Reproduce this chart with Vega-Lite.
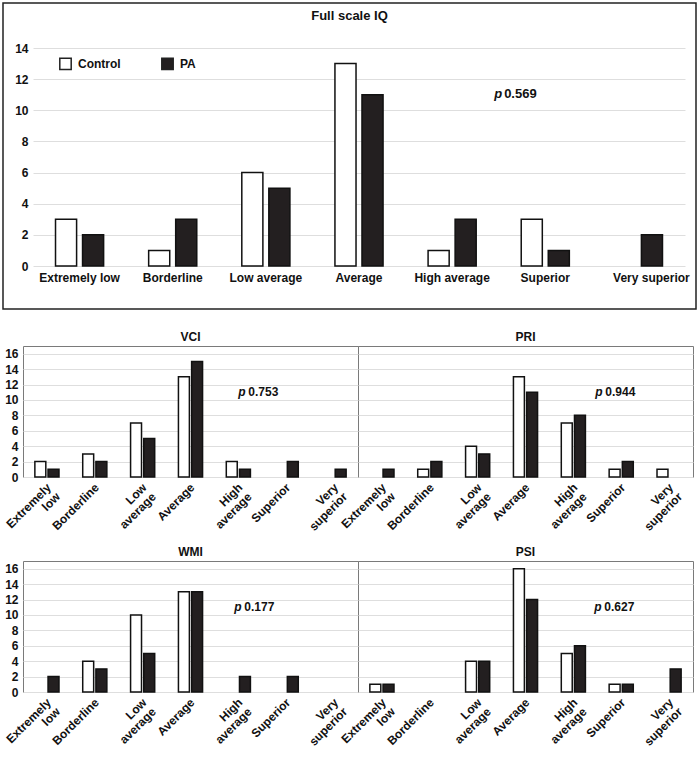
{
  "$schema": "https://vega.github.io/schema/vega-lite/v6.json",
  "padding": {"left": 2, "top": 2, "right": 0, "bottom": 0},
  "background": "white",
  "spacing": 20,
  "resolve": {"scale": {"xOffset": "independent", "x": "independent", "y": "independent"}},
  "datasets": {
    "fsiq": [
      {"cat": "Extremely low", "group": "Control", "value": 3}, {"cat": "Extremely low", "group": "PA", "value": 2},
      {"cat": "Borderline", "group": "Control", "value": 1}, {"cat": "Borderline", "group": "PA", "value": 3},
      {"cat": "Low average", "group": "Control", "value": 6}, {"cat": "Low average", "group": "PA", "value": 5},
      {"cat": "Average", "group": "Control", "value": 13}, {"cat": "Average", "group": "PA", "value": 11},
      {"cat": "High average", "group": "Control", "value": 1}, {"cat": "High average", "group": "PA", "value": 3},
      {"cat": "Superior", "group": "Control", "value": 3}, {"cat": "Superior", "group": "PA", "value": 1},
      {"cat": "Very superior", "group": "Control", "value": 0}, {"cat": "Very superior", "group": "PA", "value": 2}
    ],
    "vci": [
      {"cat": "Extremely low", "group": "Control", "value": 2}, {"cat": "Extremely low", "group": "PA", "value": 1},
      {"cat": "Borderline", "group": "Control", "value": 3}, {"cat": "Borderline", "group": "PA", "value": 2},
      {"cat": "Low average", "group": "Control", "value": 7}, {"cat": "Low average", "group": "PA", "value": 5},
      {"cat": "Average", "group": "Control", "value": 13}, {"cat": "Average", "group": "PA", "value": 15},
      {"cat": "High average", "group": "Control", "value": 2}, {"cat": "High average", "group": "PA", "value": 1},
      {"cat": "Superior", "group": "Control", "value": 0}, {"cat": "Superior", "group": "PA", "value": 2},
      {"cat": "Very superior", "group": "Control", "value": 0}, {"cat": "Very superior", "group": "PA", "value": 1}
    ],
    "pri": [
      {"cat": "Extremely low", "group": "Control", "value": 0}, {"cat": "Extremely low", "group": "PA", "value": 1},
      {"cat": "Borderline", "group": "Control", "value": 1}, {"cat": "Borderline", "group": "PA", "value": 2},
      {"cat": "Low average", "group": "Control", "value": 4}, {"cat": "Low average", "group": "PA", "value": 3},
      {"cat": "Average", "group": "Control", "value": 13}, {"cat": "Average", "group": "PA", "value": 11},
      {"cat": "High average", "group": "Control", "value": 7}, {"cat": "High average", "group": "PA", "value": 8},
      {"cat": "Superior", "group": "Control", "value": 1}, {"cat": "Superior", "group": "PA", "value": 2},
      {"cat": "Very superior", "group": "Control", "value": 1}, {"cat": "Very superior", "group": "PA", "value": 0}
    ],
    "wmi": [
      {"cat": "Extremely low", "group": "Control", "value": 0}, {"cat": "Extremely low", "group": "PA", "value": 2},
      {"cat": "Borderline", "group": "Control", "value": 4}, {"cat": "Borderline", "group": "PA", "value": 3},
      {"cat": "Low average", "group": "Control", "value": 10}, {"cat": "Low average", "group": "PA", "value": 5},
      {"cat": "Average", "group": "Control", "value": 13}, {"cat": "Average", "group": "PA", "value": 13},
      {"cat": "High average", "group": "Control", "value": 0}, {"cat": "High average", "group": "PA", "value": 2},
      {"cat": "Superior", "group": "Control", "value": 0}, {"cat": "Superior", "group": "PA", "value": 2},
      {"cat": "Very superior", "group": "Control", "value": 0}, {"cat": "Very superior", "group": "PA", "value": 0}
    ],
    "psi": [
      {"cat": "Extremely low", "group": "Control", "value": 1}, {"cat": "Extremely low", "group": "PA", "value": 1},
      {"cat": "Borderline", "group": "Control", "value": 0}, {"cat": "Borderline", "group": "PA", "value": 0},
      {"cat": "Low average", "group": "Control", "value": 4}, {"cat": "Low average", "group": "PA", "value": 4},
      {"cat": "Average", "group": "Control", "value": 16}, {"cat": "Average", "group": "PA", "value": 12},
      {"cat": "High average", "group": "Control", "value": 5}, {"cat": "High average", "group": "PA", "value": 6},
      {"cat": "Superior", "group": "Control", "value": 1}, {"cat": "Superior", "group": "PA", "value": 1},
      {"cat": "Very superior", "group": "Control", "value": 0}, {"cat": "Very superior", "group": "PA", "value": 3}
    ],
    "pvals": [
      {"panel": "FSIQ", "p": "0.569"},
      {"panel": "VCI", "p": "0.753"},
      {"panel": "PRI", "p": "0.944"},
      {"panel": "WMI", "p": "0.177"},
      {"panel": "PSI", "p": "0.627"}
    ]
  },
  "vconcat": [
    {
      "width": 693,
      "height": 306,
      "view": {"stroke": "#222222", "strokeWidth": 1.5},
      "title": {"text": "Full scale IQ", "fontSize": 13, "fontWeight": "bold", "font": "Liberation Sans", "color": "#111111", "anchor": "middle", "baseline": "alphabetic", "offset": -30},
      "layer": [
        {
          "data": {"name": "fsiq"},
          "transform": [{"filter": "datum.value > 0"}],
          "mark": {"type": "bar", "stroke": "#111111", "strokeWidth": 1.5},
          "encoding": {
            "x": {"field": "cat", "type": "nominal", "sort": ["Extremely low", "Borderline", "Low average", "Average", "High average", "Superior", "Very superior"],
              "scale": {"domain": ["Extremely low", "Borderline", "Low average", "Average", "High average", "Superior", "Very superior"], "range": [30, 682], "paddingInner": 0, "paddingOuter": 0},
              "axis": {"title": null, "orient": "bottom", "offset": -43, "labelAngle": 0, "labelAlign": "center", "labelBaseline": "top", "labelPadding": 6, "labelOffset": {"condition": {"test": "datum.label == 'Very superior'", "value": 13}, "value": 0}, "ticks": false, "domain": false, "labelFontSize": 12, "labelFontWeight": "bold", "labelColor": "#111111", "labelFont": "Liberation Sans", "labelLimit": 200, "labelOverlap": false}},
            "xOffset": {"field": "group", "type": "nominal", "scale": {"domain": ["Control", "PA"], "paddingInner": 0.22, "paddingOuter": 0.833}},
            "y": {"field": "value", "type": "quantitative", "scale": {"domain": [0, 14], "range": [263, 45], "nice": false, "zero": true},
              "axis": {"title": null, "offset": -30, "values": [0, 2, 4, 6, 8, 10, 12, 14], "labelPadding": 5, "ticks": false, "domain": false, "grid": true, "gridColor": "#dedede", "gridWidth": 1, "labelFontSize": 12, "labelFontWeight": "bold", "labelColor": "#111111", "labelFont": "Liberation Sans", "labelOverlap": false}},
            "fill": {"field": "group", "type": "nominal", "scale": {"domain": ["Control", "PA"], "range": ["#ffffff", "#231f20"]},
              "legend": {"title": null, "orient": "none", "legendX": 56, "legendY": 54, "direction": "horizontal", "symbolType": "square", "symbolSize": 130, "symbolStrokeColor": "#222222", "symbolStrokeWidth": 1.5, "labelFontSize": 12, "labelFontWeight": "bold", "labelFont": "Liberation Sans", "labelColor": "#111111", "labelOffset": 6, "columnPadding": 37}}
          }
        },
        {
          "data": {"name": "pvals"},
          "transform": [{"filter": "datum.panel == 'FSIQ'"}],
          "mark": {"type": "text", "text": "p", "fontStyle": "italic", "fontWeight": "bold", "fontSize": 13, "font": "Liberation Sans", "align": "left", "baseline": "middle", "dx": 42, "color": "#111111"},
          "encoding": {"x": {"datum": "High average", "type": "nominal"}, "y": {"datum": 11.05, "type": "quantitative"}}
        },
        {
          "data": {"name": "pvals"},
          "transform": [{"filter": "datum.panel == 'FSIQ'"}],
          "mark": {"type": "text", "fontWeight": "bold", "fontSize": 13, "font": "Liberation Sans", "align": "left", "baseline": "middle", "dx": 52, "color": "#111111"},
          "encoding": {"text": {"field": "p"}, "x": {"datum": "High average", "type": "nominal"}, "y": {"datum": 11.05, "type": "quantitative"}}
        }
      ]
    },
    {
      "spacing": 5,
      "vconcat": [
        {
          "spacing": 0,
          "bounds": "flush",
          "hconcat": [
            {"width": 20, "height": 131, "view": {"stroke": null}, "data": {"values": []}, "mark": {"type": "point", "opacity": 0}},
            {
              "width": 335, "height": 131,
              "title": {"text": "VCI", "fontSize": 12, "fontWeight": "bold", "font": "Liberation Sans", "color": "#111111", "anchor": "middle", "baseline": "alphabetic", "offset": -7},
              "layer": [
                {
                  "data": {"name": "vci"},
                  "transform": [{"filter": "datum.value > 0"}],
                  "mark": {"type": "bar", "stroke": "#111111", "strokeWidth": 1.5},
                  "encoding": {
                    "x": {"field": "cat", "type": "nominal", "sort": ["Extremely low", "Borderline", "Low average", "Average", "High average", "Superior", "Very superior"], "scale": {"domain": ["Extremely low", "Borderline", "Low average", "Average", "High average", "Superior", "Very superior"], "paddingInner": 0, "paddingOuter": 0},
                      "axis": {"title": null, "labelAngle": -45, "labelAlign": "right", "labelBaseline": "middle", "labelPadding": 8, "labelOffset": 2, "labelExpr": "split(datum.label, ' ')", "labelLineHeight": 13, "ticks": false, "domain": false, "labelFontSize": 12, "labelFontWeight": "bold", "labelColor": "#111111", "labelFont": "Liberation Sans", "labelOverlap": false}},
                    "xOffset": {"field": "group", "type": "nominal", "scale": {"domain": ["Control", "PA"], "paddingInner": 0.17, "paddingOuter": 0.9}},
                    "y": {"field": "value", "type": "quantitative", "scale": {"domain": [0, 17], "nice": false},
                      "axis": {"title": null, "values": [0, 2, 4, 6, 8, 10, 12, 14, 16], "tickCount": 9, "labelPadding": 5, "ticks": false, "domain": false, "grid": true, "gridColor": "#dedede", "labelFontSize": 12, "labelFontWeight": "bold", "labelColor": "#111111", "labelFont": "Liberation Sans", "labelOverlap": false, "labelBound": false, "labelSeparation": 0}},
                    "fill": {"field": "group", "type": "nominal", "scale": {"domain": ["Control", "PA"], "range": ["#ffffff", "#231f20"]}, "legend": null}
                  }
                },
                {
                  "data": {"name": "pvals"}, "transform": [{"filter": "datum.panel == 'VCI'"}],
                  "mark": {"type": "text", "text": "p", "fontStyle": "italic", "fontWeight": "bold", "fontSize": 12, "font": "Liberation Sans", "align": "left", "baseline": "middle", "dx": 0, "color": "#111111"},
                  "encoding": {"x": {"datum": "High average", "type": "nominal"}, "y": {"datum": 11, "type": "quantitative"}}
                },
                {
                  "data": {"name": "pvals"}, "transform": [{"filter": "datum.panel == 'VCI'"}],
                  "mark": {"type": "text", "fontWeight": "bold", "fontSize": 12, "font": "Liberation Sans", "align": "left", "baseline": "middle", "dx": 10, "color": "#111111"},
                  "encoding": {"text": {"field": "p"}, "x": {"datum": "High average", "type": "nominal"}, "y": {"datum": 11, "type": "quantitative"}}
                }
              ]
            },
            {
              "width": 335, "height": 131,
              "title": {"text": "PRI", "fontSize": 12, "fontWeight": "bold", "font": "Liberation Sans", "color": "#111111", "anchor": "middle", "baseline": "alphabetic", "offset": -7},
              "layer": [
                {
                  "data": {"name": "pri"},
                  "transform": [{"filter": "datum.value > 0"}],
                  "mark": {"type": "bar", "stroke": "#111111", "strokeWidth": 1.5},
                  "encoding": {
                    "x": {"field": "cat", "type": "nominal", "sort": ["Extremely low", "Borderline", "Low average", "Average", "High average", "Superior", "Very superior"], "scale": {"domain": ["Extremely low", "Borderline", "Low average", "Average", "High average", "Superior", "Very superior"], "paddingInner": 0, "paddingOuter": 0},
                      "axis": {"title": null, "labelAngle": -45, "labelAlign": "right", "labelBaseline": "middle", "labelPadding": 8, "labelOffset": 2, "labelExpr": "split(datum.label, ' ')", "labelLineHeight": 13, "ticks": false, "domain": false, "labelFontSize": 12, "labelFontWeight": "bold", "labelColor": "#111111", "labelFont": "Liberation Sans", "labelOverlap": false}},
                    "xOffset": {"field": "group", "type": "nominal", "scale": {"domain": ["Control", "PA"], "paddingInner": 0.17, "paddingOuter": 0.9}},
                    "y": {"field": "value", "type": "quantitative", "scale": {"domain": [0, 17], "nice": false},
                      "axis": {"title": null, "values": [0, 2, 4, 6, 8, 10, 12, 14, 16], "tickCount": 9, "labels": false, "ticks": false, "domain": false, "grid": true, "gridColor": "#dedede"}},
                    "fill": {"field": "group", "type": "nominal", "scale": {"domain": ["Control", "PA"], "range": ["#ffffff", "#231f20"]}, "legend": null}
                  }
                },
                {
                  "data": {"name": "pvals"}, "transform": [{"filter": "datum.panel == 'PRI'"}],
                  "mark": {"type": "text", "text": "p", "fontStyle": "italic", "fontWeight": "bold", "fontSize": 12, "font": "Liberation Sans", "align": "left", "baseline": "middle", "dx": 22, "color": "#111111"},
                  "encoding": {"x": {"datum": "High average", "type": "nominal"}, "y": {"datum": 11, "type": "quantitative"}}
                },
                {
                  "data": {"name": "pvals"}, "transform": [{"filter": "datum.panel == 'PRI'"}],
                  "mark": {"type": "text", "fontWeight": "bold", "fontSize": 12, "font": "Liberation Sans", "align": "left", "baseline": "middle", "dx": 32, "color": "#111111"},
                  "encoding": {"text": {"field": "p"}, "x": {"datum": "High average", "type": "nominal"}, "y": {"datum": 11, "type": "quantitative"}}
                }
              ]
            }
          ]
        },
        {
          "spacing": 0,
          "bounds": "flush",
          "hconcat": [
            {"width": 20, "height": 131, "view": {"stroke": null}, "data": {"values": []}, "mark": {"type": "point", "opacity": 0}},
            {
              "width": 335, "height": 131,
              "title": {"text": "WMI", "fontSize": 12, "fontWeight": "bold", "font": "Liberation Sans", "color": "#111111", "anchor": "middle", "baseline": "alphabetic", "offset": -7},
              "layer": [
                {
                  "data": {"name": "wmi"},
                  "transform": [{"filter": "datum.value > 0"}],
                  "mark": {"type": "bar", "stroke": "#111111", "strokeWidth": 1.5},
                  "encoding": {
                    "x": {"field": "cat", "type": "nominal", "sort": ["Extremely low", "Borderline", "Low average", "Average", "High average", "Superior", "Very superior"], "scale": {"domain": ["Extremely low", "Borderline", "Low average", "Average", "High average", "Superior", "Very superior"], "paddingInner": 0, "paddingOuter": 0},
                      "axis": {"title": null, "labelAngle": -45, "labelAlign": "right", "labelBaseline": "middle", "labelPadding": 8, "labelOffset": 2, "labelExpr": "split(datum.label, ' ')", "labelLineHeight": 13, "ticks": false, "domain": false, "labelFontSize": 12, "labelFontWeight": "bold", "labelColor": "#111111", "labelFont": "Liberation Sans", "labelOverlap": false}},
                    "xOffset": {"field": "group", "type": "nominal", "scale": {"domain": ["Control", "PA"], "paddingInner": 0.17, "paddingOuter": 0.9}},
                    "y": {"field": "value", "type": "quantitative", "scale": {"domain": [0, 17], "nice": false},
                      "axis": {"title": null, "values": [0, 2, 4, 6, 8, 10, 12, 14, 16], "tickCount": 9, "labelPadding": 5, "ticks": false, "domain": false, "grid": true, "gridColor": "#dedede", "labelFontSize": 12, "labelFontWeight": "bold", "labelColor": "#111111", "labelFont": "Liberation Sans", "labelOverlap": false, "labelBound": false, "labelSeparation": 0}},
                    "fill": {"field": "group", "type": "nominal", "scale": {"domain": ["Control", "PA"], "range": ["#ffffff", "#231f20"]}, "legend": null}
                  }
                },
                {
                  "data": {"name": "pvals"}, "transform": [{"filter": "datum.panel == 'WMI'"}],
                  "mark": {"type": "text", "text": "p", "fontStyle": "italic", "fontWeight": "bold", "fontSize": 12, "font": "Liberation Sans", "align": "left", "baseline": "middle", "dx": -4, "color": "#111111"},
                  "encoding": {"x": {"datum": "High average", "type": "nominal"}, "y": {"datum": 11, "type": "quantitative"}}
                },
                {
                  "data": {"name": "pvals"}, "transform": [{"filter": "datum.panel == 'WMI'"}],
                  "mark": {"type": "text", "fontWeight": "bold", "fontSize": 12, "font": "Liberation Sans", "align": "left", "baseline": "middle", "dx": 6, "color": "#111111"},
                  "encoding": {"text": {"field": "p"}, "x": {"datum": "High average", "type": "nominal"}, "y": {"datum": 11, "type": "quantitative"}}
                }
              ]
            },
            {
              "width": 335, "height": 131,
              "title": {"text": "PSI", "fontSize": 12, "fontWeight": "bold", "font": "Liberation Sans", "color": "#111111", "anchor": "middle", "baseline": "alphabetic", "offset": -7},
              "layer": [
                {
                  "data": {"name": "psi"},
                  "transform": [{"filter": "datum.value > 0"}],
                  "mark": {"type": "bar", "stroke": "#111111", "strokeWidth": 1.5},
                  "encoding": {
                    "x": {"field": "cat", "type": "nominal", "sort": ["Extremely low", "Borderline", "Low average", "Average", "High average", "Superior", "Very superior"], "scale": {"domain": ["Extremely low", "Borderline", "Low average", "Average", "High average", "Superior", "Very superior"], "paddingInner": 0, "paddingOuter": 0},
                      "axis": {"title": null, "labelAngle": -45, "labelAlign": "right", "labelBaseline": "middle", "labelPadding": 8, "labelOffset": 2, "labelExpr": "split(datum.label, ' ')", "labelLineHeight": 13, "ticks": false, "domain": false, "labelFontSize": 12, "labelFontWeight": "bold", "labelColor": "#111111", "labelFont": "Liberation Sans", "labelOverlap": false}},
                    "xOffset": {"field": "group", "type": "nominal", "scale": {"domain": ["Control", "PA"], "paddingInner": 0.17, "paddingOuter": 0.9}},
                    "y": {"field": "value", "type": "quantitative", "scale": {"domain": [0, 17], "nice": false},
                      "axis": {"title": null, "values": [0, 2, 4, 6, 8, 10, 12, 14, 16], "tickCount": 9, "labels": false, "ticks": false, "domain": false, "grid": true, "gridColor": "#dedede"}},
                    "fill": {"field": "group", "type": "nominal", "scale": {"domain": ["Control", "PA"], "range": ["#ffffff", "#231f20"]}, "legend": null}
                  }
                },
                {
                  "data": {"name": "pvals"}, "transform": [{"filter": "datum.panel == 'PSI'"}],
                  "mark": {"type": "text", "text": "p", "fontStyle": "italic", "fontWeight": "bold", "fontSize": 12, "font": "Liberation Sans", "align": "left", "baseline": "middle", "dx": 21, "color": "#111111"},
                  "encoding": {"x": {"datum": "High average", "type": "nominal"}, "y": {"datum": 11, "type": "quantitative"}}
                },
                {
                  "data": {"name": "pvals"}, "transform": [{"filter": "datum.panel == 'PSI'"}],
                  "mark": {"type": "text", "fontWeight": "bold", "fontSize": 12, "font": "Liberation Sans", "align": "left", "baseline": "middle", "dx": 31, "color": "#111111"},
                  "encoding": {"text": {"field": "p"}, "x": {"datum": "High average", "type": "nominal"}, "y": {"datum": 11, "type": "quantitative"}}
                }
              ]
            }
          ]
        }
      ]
    }
  ],
  "config": {
    "view": {"stroke": "#7a7a7a", "strokeWidth": 1},
    "font": "Liberation Sans"
  }
}
